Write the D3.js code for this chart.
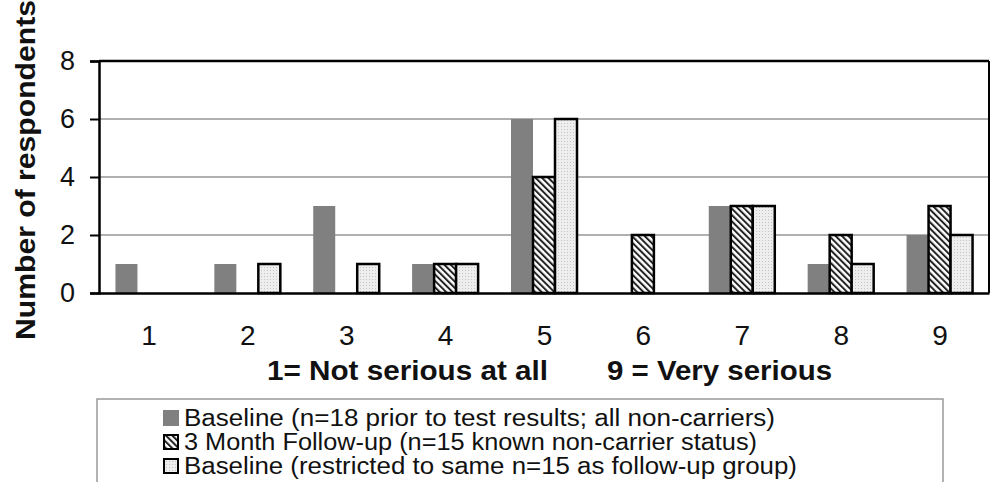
<!DOCTYPE html>
<html><head><meta charset="utf-8">
<script src="https://cdn.jsdelivr.net/npm/d3@7"></script>
<style>
html,body{margin:0;padding:0;background:#fff;}
svg{display:block;font-family:"Liberation Sans",Arial,sans-serif;}
</style></head>
<body><svg id="c" width="991" height="482"></svg>
<script>
const categories = ["1","2","3","4","5","6","7","8","9"];
const seriesNames = [
  "Baseline (n=18 prior to test results; all non-carriers)",
  "3 Month Follow-up (n=15 known non-carrier status)",
  "Baseline (restricted to same n=15 as follow-up group)"
];
const baselineAll = [1,1,3,1,6,0,3,1,2];
const followUp    = [0,0,0,1,4,2,3,2,3];
const baseline15  = [0,1,1,1,6,0,3,1,2];
const yTicks = [0,2,4,6,8];
const yTitle = "Number of respondents";
const xTitleLeft = "1= Not serious at all";
const xTitleRight = "9 = Very serious";

const seriesValues = [baselineAll, followUp, baseline15];
const legendWidths = [591, 573, 613];
const svg = d3.select("#c");
const L = 99, R = 989, T = 61, B = 293;

const defs = svg.append("defs");
const hatch = defs.append("pattern").attr("id","hatch").attr("patternUnits","userSpaceOnUse")
  .attr("width",4.5).attr("height",4.5).attr("patternTransform","rotate(-45)");
hatch.append("rect").attr("width",4.5).attr("height",4.5).attr("fill","#fff");
hatch.append("rect").attr("x",0).attr("width",2).attr("height",4.5).attr("fill","#222");
const dots = defs.append("pattern").attr("id","dots").attr("patternUnits","userSpaceOnUse")
  .attr("width",3).attr("height",3);
dots.append("rect").attr("width",3).attr("height",3).attr("fill","#eeeeee");
dots.append("rect").attr("width",1).attr("height",1).attr("fill","#c4c4c4");
const fills = ["#808080","url(#hatch)","url(#dots)"];
const strokes = ["none","#000","#000"];

const x = d3.scalePoint().domain(categories).range([L,R]).padding(0.5);
const xs = d3.scaleBand().domain(d3.range(3)).range([-33,33]);
const y = d3.scaleLinear().domain([0,8]).range([B,T]);

// gridlines
svg.append("g").selectAll("line").data(yTicks.filter(v=>v>0 && v<8)).join("line")
  .attr("x1",L).attr("x2",R).attr("y1",d=>y(d)).attr("y2",d=>y(d))
  .attr("stroke","#b0b0b0").attr("stroke-width",2);

// bars
seriesValues.forEach((vals,si)=>{
  svg.append("g").selectAll("rect").data(vals.map((v,i)=>({c:categories[i],v}))
    .filter(d=>d.v>0)).join("rect")
    .attr("x",d=>x(d.c)+xs(si)).attr("width",xs.bandwidth())
    .attr("y",d=>y(d.v)).attr("height",d=>y(0)-y(d.v))
    .attr("fill",fills[si]).attr("stroke",strokes[si]).attr("stroke-width",2.5);
});

// frame
svg.append("line").attr("x1",L).attr("x2",R).attr("y1",T).attr("y2",T).attr("stroke","#000").attr("stroke-width",2.5);
svg.append("line").attr("x1",R).attr("x2",R).attr("y1",T).attr("y2",B).attr("stroke","#000").attr("stroke-width",2);

// y axis
const ya = svg.append("g").attr("transform",`translate(${L},0)`)
  .call(d3.axisLeft(y).tickValues(yTicks).tickSize(9).tickPadding(15).tickFormat(d3.format("d")));
ya.select(".domain").attr("stroke","#000").attr("stroke-width",2.5);
ya.selectAll(".tick line").attr("stroke","#000").attr("stroke-width",2);
ya.selectAll(".tick text").attr("font-size",27).attr("fill","#111").attr("font-family","Liberation Sans, Arial, sans-serif");

// x axis
const xa = svg.append("g").attr("transform",`translate(0,${B})`)
  .call(d3.axisBottom(x).tickSize(0).tickPadding(32));
xa.select(".domain").attr("stroke","#000").attr("stroke-width",2.5);
xa.selectAll(".tick text").attr("font-size",28).attr("fill","#111").attr("font-family","Liberation Sans, Arial, sans-serif");

// axis titles
svg.append("text").attr("transform","translate(35,170) rotate(-90)")
  .attr("text-anchor","middle").attr("font-size",27).attr("font-weight","bold").attr("fill","#111")
  .attr("textLength",340).attr("lengthAdjust","spacingAndGlyphs").text(yTitle);
svg.append("text").attr("x",267).attr("y",380).attr("font-size",27).attr("font-weight","bold").attr("fill","#111")
  .attr("textLength",281).attr("lengthAdjust","spacingAndGlyphs").text(xTitleLeft);
svg.append("text").attr("x",607).attr("y",380).attr("font-size",27).attr("font-weight","bold").attr("fill","#111")
  .attr("textLength",225).attr("lengthAdjust","spacingAndGlyphs").text(xTitleRight);

// legend
svg.append("rect").attr("x",97).attr("y",399).attr("width",846).attr("height",100)
  .attr("fill","none").attr("stroke","#999").attr("stroke-width",1.5);
const lg = svg.append("g").selectAll("g").data(seriesNames).join("g")
  .attr("transform",(d,i)=>`translate(163,${410+i*24})`);
lg.append("rect").attr("x",(d,i)=>i?1:0).attr("y",(d,i)=>i?1:0)
  .attr("width",(d,i)=>i?14:16).attr("height",(d,i)=>i?14:16)
  .attr("fill",(d,i)=>fills[i]).attr("stroke",(d,i)=>strokes[i]).attr("stroke-width",2);
lg.append("text").attr("x",21).attr("y",16).attr("font-size",23)
  .attr("textLength",(d,i)=>legendWidths[i]).attr("lengthAdjust","spacingAndGlyphs")
  .attr("fill","#111").text(d=>d);
</script></body></html>
